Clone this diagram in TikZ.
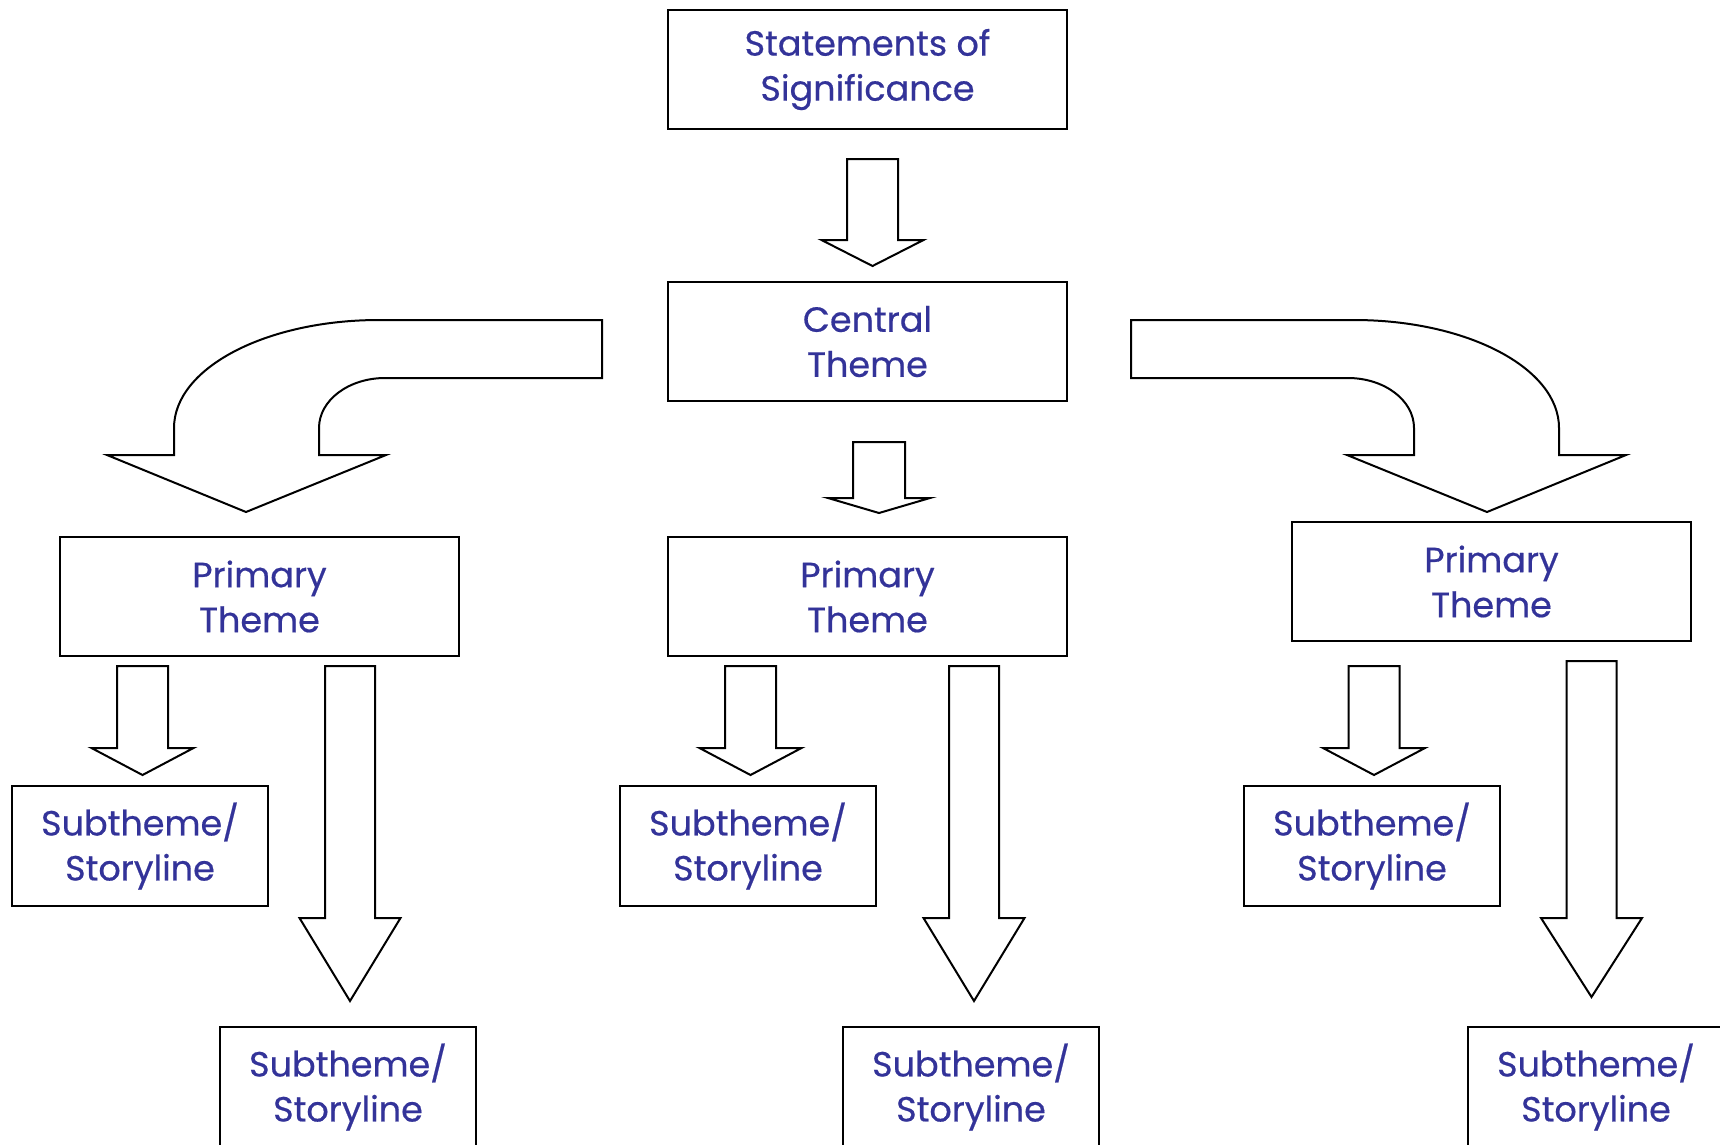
\documentclass[tikz,border=0pt]{standalone}
\usepackage{fontspec}
\setmainfont{Poppins}
\newfontfamily\labelfont{Poppins}[FakeBold=0.5]
\usetikzlibrary{calc}
\definecolor{txt}{RGB}{51,51,153}
\tikzset{
  box/.style={draw=black, line width=2pt, fill=white, minimum width=399pt, minimum height=119pt,
    inner sep=0pt, anchor=north west, align=center, text=txt, font=\labelfont\fontsize{35}{45}\selectfont},
  sbox/.style={box, minimum width=256pt, minimum height=120pt},
  blk/.style={draw=black, line width=2pt, fill=white, line join=miter}
}
% #1 coordinate (top centre), #2 shaft length, #3 total length, #4 shaft half width, #5 head half width
\newcommand\blockdown[5]{\draw[blk] ($(#1)+(-#4,0)$) -- ($(#1)+(-#4,#2)$) -- ($(#1)+(-#5,#2)$)
  -- ($(#1)+(0,#3)$) -- ($(#1)+(#5,#2)$) -- ($(#1)+(#4,#2)$) -- ($(#1)+(#4,0)$) -- cycle;}
\begin{document}
\begin{tikzpicture}[x=1pt,y=-1pt]
\useasboundingbox (0,0) rectangle (1720,1144);
\clip (0,0) rectangle (1720,1144);
\fill[white] (0,0) rectangle (1720,1144);

\node[box] (sos) at (667,9) {Statements of\\Significance};
\node[box] (ct) at (667,281) {Central\\Theme};
\node[box] (p1) at (59,536) {Primary\\Theme};
\node[box] (p2) at (667,536) {Primary\\Theme};
\node[box] (p3) at (1291,521) {Primary\\Theme};
\node[sbox] (s1a) at (11,785) {Subtheme/\\Storyline};
\node[sbox] (s2a) at (619,785) {Subtheme/\\Storyline};
\node[sbox] (s3a) at (1243,785) {Subtheme/\\Storyline};
\node[sbox] (s1b) at (219,1026) {Subtheme/\\Storyline};
\node[sbox] (s2b) at (842,1026) {Subtheme/\\Storyline};
\node[sbox] (s3b) at (1467,1026) {Subtheme/\\Storyline};

\coordinate (a1) at ($(sos.south)+(5,29)$);
\coordinate (a2) at ($(ct.south)+(11.5,40)$);
\coordinate (b1) at ($(p1.south west)+(83.5,9)$);
\coordinate (b2) at ($(p2.south west)+(83.5,9)$);
\coordinate (b3) at ($(p3.south west)+(83,24)$);
\coordinate (c1) at ($(p1.south west)+(291,9)$);
\coordinate (c2) at ($(p2.south west)+(307,9)$);
\coordinate (c3) at ($(p3.south west)+(300.5,19)$);

\blockdown{a1}{81}{107}{25.5}{51}
\blockdown{a2}{56}{71}{26}{51}
\blockdown{b1}{82}{109}{25.5}{51}
\blockdown{b2}{82}{109}{25.5}{51}
\blockdown{b3}{82}{109}{25.5}{51}
\blockdown{c1}{252}{335}{25}{50.5}
\blockdown{c2}{252}{335}{25}{50.5}
\blockdown{c3}{257}{336}{25}{50.5}

% curved block arrows
\draw[blk] (602,320) -- (379,320) .. controls (266,320) and (174,368) .. (174,428)
  -- (174,455) -- (107,455) -- (246,512) -- (386,455) -- (319,455) -- (319,428)
  .. controls (319,400) and (349,378) .. (385,378) -- (602,378) -- cycle;
\draw[blk] (1131,320) -- (1354,320) .. controls (1467,320) and (1559,368) .. (1559,428)
  -- (1559,455) -- (1626,455) -- (1487,512) -- (1347,455) -- (1414,455) -- (1414,428)
  .. controls (1414,400) and (1384,378) .. (1348,378) -- (1131,378) -- cycle;
\end{tikzpicture}
\end{document}
